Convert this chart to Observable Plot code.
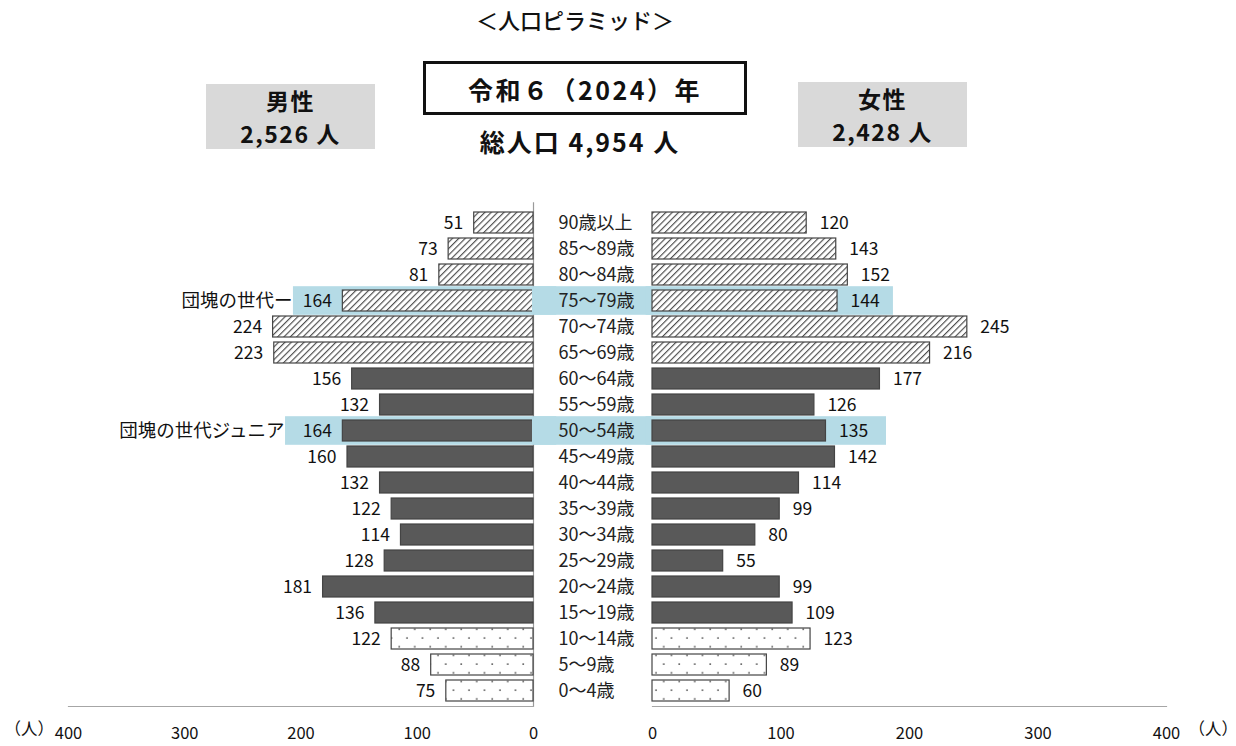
<!DOCTYPE html>
<html>
<head>
<meta charset="utf-8">
<script src="https://cdn.jsdelivr.net/npm/d3@7"></script>
<script src="https://cdn.jsdelivr.net/npm/@observablehq/plot@0.6"></script>
<style>
  html, body { margin: 0; padding: 0; background: #fff; }
  body { width: 1236px; height: 746px; position: relative; overflow: hidden;
         font-family: "Noto Sans CJK JP", "Noto Sans", sans-serif; color: #111; }
  .abs { position: absolute; white-space: nowrap; }
  #header { position: absolute; left: 0; top: 0; width: 1236px; height: 200px; }
  .title { left: 375px; width: 400px; top: 4px; text-align: center; font-size: 22px; font-weight: 500; line-height: 30px; }
  .yearbox { left: 423px; top: 61px; width: 318px; height: 48px; border: 3px solid #111;
             text-align: center; line-height: 50px; font-size: 25px; font-weight: 700; letter-spacing: 2.5px; }
  .total { left: 380px; width: 400px; top: 124px; text-align: center; font-size: 25px; font-weight: 700; letter-spacing: 2px; line-height: 34px; }
  .sexbox { background: #d9d9d9; text-align: center; font-size: 23px; font-weight: 700; line-height: 33px; padding-top: 0px; box-sizing: border-box; letter-spacing: 1.5px; }
  #plots { position: absolute; left: 0; top: 200px; width: 1236px; height: 546px; }
  #plots > div { position: absolute; top: 0; }
  svg { display: block; overflow: visible; }
</style>
</head>
<body>
<div id="header">
  <div class="abs title">＜人口ピラミッド＞</div>
  <div class="abs yearbox">令和６（2024）年</div>
  <div class="abs total">総人口 4,954 人</div>
  <div class="abs sexbox" style="left:206px;top:84px;width:169px;height:65px;">男性<br>2,526 人</div>
  <div class="abs sexbox" style="left:798px;top:82px;width:169px;height:65px;">女性<br>2,428 人</div>
</div>
<div id="plots">
  <div id="left" style="left:0px;"></div>
  <div id="center" style="left:533px;"></div>
  <div id="right" style="left:652px;"></div>
</div>
<script>
// ---- data ----
const ageGroups = ["90歳以上","85～89歳","80～84歳","75～79歳","70～74歳","65～69歳","60～64歳","55～59歳","50～54歳","45～49歳","40～44歳","35～39歳","30～34歳","25～29歳","20～24歳","15～19歳","10～14歳","5～9歳","0～4歳"];
const male   = [51,73,81,164,224,223,156,132,164,160,132,122,114,128,181,136,122,88,75];
const female = [120,143,152,144,245,216,177,126,135,142,114,99,80,55,99,109,123,89,60];
const groupType = ["old","old","old","old","old","old","work","work","work","work","work","work","work","work","work","work","young","young","young"];
const xTicks = [0,100,200,300,400];
const highlightGroups = ["75～79歳","50～54歳"];
const highlightNotes = ["団塊の世代ー","団塊の世代ジュニア"];

const rows = ageGroups.map((a,i) => ({age: a, male: male[i], female: female[i], type: groupType[i]}));
const fills = {old: "url(#hatch)", work: "#595959", young: "url(#dots)"};

const H = 546, MT = 8.2, MB = 40;
const yOpts = {domain: ageGroups, paddingInner: 0.18, paddingOuter: 0.1, axis: null};
const font = '"Noto Sans CJK JP", "Noto Sans", sans-serif';
const hlColor = "#b5dbe6";

function addDefs(svg) {
  const defs = d3.select(svg).insert("defs", ":first-child");
  const h = defs.append("pattern").attr("id","hatch").attr("patternUnits","userSpaceOnUse")
    .attr("width",4.5).attr("height",4.5).attr("patternTransform","rotate(45)");
  h.append("rect").attr("width",4.5).attr("height",4.5).attr("fill","#fff");
  h.append("line").attr("x1",0).attr("y1",0).attr("x2",0).attr("y2",4.5)
    .attr("stroke","#4d4d4d").attr("stroke-width",2.3);
  const d = defs.append("pattern").attr("id","dots").attr("patternUnits","userSpaceOnUse")
    .attr("width",15.5).attr("height",17.4);
  d.append("rect").attr("width",15.5).attr("height",17.4).attr("fill","#fff");
  d.append("circle").attr("cx",4).attr("cy",3).attr("r",0.9).attr("fill","#444");
  d.append("circle").attr("cx",11.75).attr("cy",11.7).attr("r",0.9).attr("fill","#444");
}

const hlRows = highlightGroups.map((g,i) => ({age: g, note: highlightNotes[i]}));

// ---- left (male) ----
const leftPlot = Plot.plot({
  width: 533, height: H, marginLeft: 68, marginRight: 0, marginTop: MT, marginBottom: MB,
  style: {fontFamily: font, fontSize: "16.5px", color: "#111", background: "transparent", overflow: "visible"},
  x: {domain: [400, 0], label: null, axis: null},
  y: yOpts,
  marks: [
    Plot.barX(hlRows, {y: "age", x1: (d,i) => i === 0 ? 206.5 : 213.3, x2: -20, fill: hlColor, insetTop: -3.8, insetBottom: -3.8}),
    Plot.frame({anchor: "bottom", stroke: "#a6a6a6", strokeWidth: 1.2}),
    Plot.ruleX([0], {stroke: "#9a9a9a", strokeWidth: 1.2, insetTop: -6}),
    Plot.barX(rows, {y: "age", x1: 0, x2: "male", fill: d => fills[d.type], stroke: "#444", strokeWidth: 1.2}),
    Plot.text(rows, {y: "age", x: "male", text: d => String(d.male), textAnchor: "end", dx: -11, fontSize: 17.5, fill: "#111"}),
    Plot.text(hlRows, {y: "age", x: (d,i) => i === 0 ? 206.5 : 213.3, text: "note", textAnchor: "end", dx: -1, fontSize: 18.5, fill: "#111"}),
    Plot.axisX({ticks: xTicks, tickSize: 0, tickPadding: 21, fontSize: 16.5, label: null}),
    Plot.text(["（人）"], {frameAnchor: "bottom-left", dx: -64, dy: 28, textAnchor: "start", fontSize: 16.5, fill: "#111"})
  ]
});
addDefs(leftPlot);
document.getElementById("left").append(leftPlot);

// ---- center (age labels) ----
const centerPlot = Plot.plot({
  width: 119, height: H, marginLeft: 0, marginRight: 0, marginTop: MT, marginBottom: MB,
  style: {fontFamily: font, fontSize: "18px", background: "transparent", overflow: "visible"},
  x: {domain: [0, 1], axis: null},
  y: yOpts,
  marks: [
    Plot.barX(hlRows, {y: "age", x1: 0, x2: 1, fill: hlColor, insetTop: -3.8, insetBottom: -3.8, insetLeft: -1, insetRight: -1}),
    Plot.text(ageGroups, {y: d => d, text: d => d, frameAnchor: "left", dx: 25, textAnchor: "start", fontSize: 18, fill: "#222"})
  ]
});
document.getElementById("center").append(centerPlot);

// ---- right (female) ----
const rightPlot = Plot.plot({
  width: 584, height: H, marginLeft: 0, marginRight: 70, marginTop: MT, marginBottom: MB,
  style: {fontFamily: font, fontSize: "16.5px", color: "#111", background: "transparent", overflow: "visible"},
  x: {domain: [0, 400], label: null, axis: null},
  y: yOpts,
  marks: [
    Plot.barX(hlRows, {y: "age", x1: -5, x2: (d,i) => i === 0 ? 187.5 : 182.1, fill: hlColor, insetTop: -3.8, insetBottom: -3.8}),
    Plot.frame({anchor: "bottom", stroke: "#a6a6a6", strokeWidth: 1.2}),
    Plot.barX(rows, {y: "age", x1: 0, x2: "female", fill: d => fills[d.type], stroke: "#444", strokeWidth: 1.2}),
    Plot.text(rows, {y: "age", x: "female", text: d => String(d.female), textAnchor: "start", dx: 13, fontSize: 17.5, fill: "#111"}),
    Plot.axisX({ticks: xTicks, tickSize: 0, tickPadding: 21, fontSize: 16.5, label: null}),
    Plot.text(["（人）"], {frameAnchor: "bottom-right", dx: 22, dy: 28, textAnchor: "start", fontSize: 16.5, fill: "#111"})
  ]
});
addDefs(rightPlot);
document.getElementById("right").append(rightPlot);
</script>
</body>
</html>
